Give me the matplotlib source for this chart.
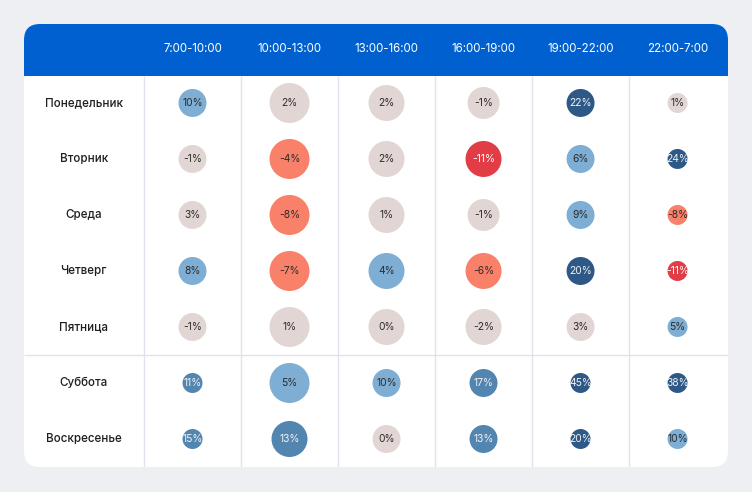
import numpy as np
import matplotlib.pyplot as plt
from matplotlib.patches import FancyBboxPatch, Rectangle

plt.rcParams['font.family'] = ['Inter', 'DejaVu Sans']

days = ['Понедельник', 'Вторник', 'Среда', 'Четверг', 'Пятница', 'Суббота', 'Воскресенье']
slots = ['7:00-10:00', '10:00-13:00', '13:00-16:00', '16:00-19:00', '19:00-22:00', '22:00-7:00']

# change in % (rows = days, cols = time slots)
change = np.array([
    [10, 2, 2, -1, 22, 1],
    [-1, -4, 2, -11, 6, 24],
    [3, -8, 1, -1, 9, -8],
    [8, -7, 4, -6, 20, -11],
    [-1, 1, 0, -2, 3, 5],
    [11, 5, 10, 17, 45, 38],
    [15, 13, 0, 13, 20, 10],
])

# relative bubble size
volume = np.array([
    [28, 40, 36, 32, 28, 20],
    [28, 40, 36, 36, 28, 20],
    [28, 40, 36, 32, 28, 20],
    [28, 40, 36, 36, 28, 20],
    [28, 40, 36, 36, 28, 20],
    [20, 40, 28, 28, 20, 20],
    [20, 36, 28, 28, 20, 20],
])

bins = [-100, -10, -3, 4, 11, 20, 1000]
fills = ['#e23c47', '#f98069', '#e1d6d4', '#7eaed4', '#5385b1', '#2e5987']
txt_cols = ['white', '#2b2b2b', '#2b2b2b', '#2b2b2b', '#f2f2f2', '#f2f2f2']


def pick(v):
    k = np.searchsorted(bins, v, side='right') - 1
    return fills[k], txt_cols[k]


W, H = 752, 492
fig = plt.figure(figsize=(W / 100, H / 100), dpi=100)
fig.patch.set_facecolor('#eeeff3')

# card background in pixel coords
bg = fig.add_axes([0, 0, 1, 1])
bg.set_xlim(0, W)
bg.set_ylim(H, 0)
bg.axis('off')
bg.add_patch(FancyBboxPatch((24, 24), 704, 443, boxstyle='round,pad=0,rounding_size=16',
                            fc='white', ec='none'))
bg.add_patch(FancyBboxPatch((24, 24), 704, 52, boxstyle='round,pad=0,rounding_size=16',
                            fc='#0060d0', ec='none'))
bg.add_patch(Rectangle((24, 50), 704, 26, fc='#0060d0', ec='none'))

# table axes
ax = fig.add_axes([24 / W, 25 / H, 704 / W, 443 / H])
ax.set_xlim(-1.737, 5.52)
ax.set_ylim(6.5, -1.41)
ax.axis('off')
ax.patch.set_alpha(0)

nr, nc = change.shape
ax.vlines(np.arange(nc) - 0.5, -0.48, 6.5, color='#e2e2ec', lw=1)
ax.hlines(4.5, -1.737, 5.52, color='#e2e2ec', lw=1)

for j, s in enumerate(slots):
    ax.text(j, -0.96, s, ha='center', va='center', color='white', fontsize=8.3)

for i, d in enumerate(days):
    ax.text(-1.12, i, d, ha='center', va='center', color='#1e1e1e', fontsize=8.4,
            fontweight='medium')

xx, yy = np.meshgrid(np.arange(nc), np.arange(nr))
cols = [pick(v)[0] for v in change.ravel()]
ax.scatter(xx.ravel(), yy.ravel(), s=(volume.ravel() * 0.72) ** 2, c=cols, lw=0, zorder=3)

for i in range(nr):
    for j in range(nc):
        ax.text(j, i, f'{change[i, j]}%', ha='center', va='center', fontsize=7.4,
                color=pick(change[i, j])[1], zorder=4)

fig.savefig('out.png', dpi=100, facecolor=fig.get_facecolor())
